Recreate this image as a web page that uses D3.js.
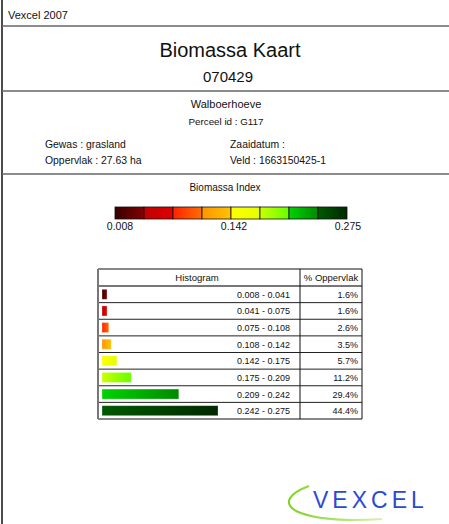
<!DOCTYPE html>
<html>
<head>
<meta charset="utf-8">
<script src="https://d3js.org/d3.v7.min.js"></script>
<style>
  body { margin: 0; background: #fff; }
  svg { display: block; font-family: "Liberation Sans", Arial, sans-serif; }
</style>
</head>
<body>
<div id="chart"></div>
<script>
//////////////////////// Data ////////////////////////////
var ranges = ["0.008 - 0.041", "0.041 - 0.075", "0.075 - 0.108", "0.108 - 0.142",
              "0.142 - 0.175", "0.175 - 0.209", "0.209 - 0.242", "0.242 - 0.275"];
var percents = [1.6, 1.6, 2.6, 3.5, 5.7, 11.2, 29.4, 44.4];
var colorStart = ["#3a0000", "#c00000", "#ff2200", "#ff9500", "#ffff00", "#ccff00", "#00d400", "#005a00"];
var colorEnd   = ["#820000", "#e00000", "#ff7000", "#ffc400", "#e4ff00", "#66ff00", "#008a00", "#002800"];
var indexTicks = ["0.008", "0.142", "0.275"];

//////////////////////// Set-up ////////////////////////////
var width = 449, height = 524;

var svg = d3.select("#chart").append("svg")
	.attr("width", width)
	.attr("height", height);

var defs = svg.append("defs");
colorStart.forEach(function(c, i) {
	var g = defs.append("linearGradient").attr("id", "grad" + i)
		.attr("x1", "0%").attr("x2", "100%").attr("y1", "0%").attr("y2", "0%");
	g.append("stop").attr("offset", "0%").attr("stop-color", c);
	g.append("stop").attr("offset", "100%").attr("stop-color", colorEnd[i]);
});

//frame lines
svg.append("line").attr("x1", 2).attr("x2", 2).attr("y1", 0).attr("y2", height)
	.style("stroke", "#111").style("stroke-width", 1.5);
[26, 91, 174].forEach(function(y) {
	svg.append("line").attr("x1", 2).attr("x2", width).attr("y1", y).attr("y2", y)
		.style("stroke", "#666").style("stroke-width", 1.6);
});

//header texts
function txt(x, y, s, size, anchor) {
	return svg.append("text").attr("x", x).attr("y", y)
		.style("font-size", size + "px").style("text-anchor", anchor || "start")
		.style("fill", "#111").text(s);
}
txt(8, 19, "Vexcel 2007", 11);
txt(230, 57, "Biomassa Kaart", 20, "middle");
txt(228, 82, "070429", 15, "middle");
txt(226, 108, "Walboerhoeve", 11, "middle");
txt(226, 125, "Perceel id : G117", 9.8, "middle");
txt(45, 148, "Gewas : grasland", 10.4);
txt(230, 148, "Zaaidatum :", 10.4);
txt(45, 164, "Oppervlak : 27.63 ha", 10.4);
txt(230, 164, "Veld : 1663150425-1", 10.4);

////////////////////// Colour bar //////////////////////////
txt(225, 191, "Biomassa Index", 10, "middle");

var xBar = d3.scaleBand().domain(d3.range(colorStart.length)).range([115, 347]).padding(0);
var barG = svg.append("g");
barG.selectAll("rect").data(colorStart).enter().append("rect")
	.attr("x", function(d, i) { return xBar(i); })
	.attr("y", 207)
	.attr("width", xBar.bandwidth())
	.attr("height", 12)
	.style("fill", function(d, i) { return "url(#grad" + i + ")"; })
	.style("stroke", "#111").style("stroke-width", 0.8);

var xIdx = d3.scalePoint().domain(indexTicks).range([120, 348]);
svg.selectAll(".idxLabel").data(indexTicks).enter().append("text")
	.attr("class", "idxLabel")
	.attr("x", function(d) { return xIdx(d); })
	.attr("y", 230)
	.style("font-size", "10.5px")
	.style("fill", "#111")
	.style("text-anchor", "middle")
	.text(function(d) { return d; });

////////////////////// Histogram ///////////////////////////
var tLeft = 98, tRight = 362, tTop = 269, headBottom = 286, tBottom = 419, colDiv = 300;

var y = d3.scaleBand().domain(d3.range(ranges.length)).range([headBottom, tBottom]);
var xw = d3.scaleLinear().domain([0, 44.4]).range([0, 116]);

var tab = svg.append("g");
//row lines
tab.selectAll(".rowLine").data(d3.range(ranges.length)).enter().append("line")
	.attr("x1", tLeft).attr("x2", tRight)
	.attr("y1", function(d) { return y(d); })
	.attr("y2", function(d) { return y(d); })
	.style("stroke", function(d) { return d === 0 ? "#777" : "#222"; })
	.style("stroke-width", function(d) { return d === 0 ? 2 : 1; });
tab.append("line").attr("x1", tLeft).attr("x2", tRight).attr("y1", tTop).attr("y2", tTop)
	.style("stroke", "#111").style("stroke-width", 1.2);
tab.append("line").attr("x1", tLeft).attr("x2", tRight).attr("y1", tBottom).attr("y2", tBottom)
	.style("stroke", "#111").style("stroke-width", 1.2);
tab.append("line").attr("x1", tLeft).attr("x2", tLeft).attr("y1", tTop).attr("y2", tBottom)
	.style("stroke", "#777").style("stroke-width", 2);
tab.append("line").attr("x1", tRight).attr("x2", tRight).attr("y1", tTop).attr("y2", tBottom)
	.style("stroke", "#111").style("stroke-width", 1);
tab.append("line").attr("x1", colDiv).attr("x2", colDiv).attr("y1", tTop).attr("y2", tBottom)
	.style("stroke", "#111").style("stroke-width", 1);

//header
tab.append("text").attr("x", 197).attr("y", 281).style("font-size", "9.5px")
	.style("text-anchor", "middle").style("fill", "#111").text("Histogram");
tab.append("text").attr("x", 331).attr("y", 281).style("font-size", "9.5px")
	.style("text-anchor", "middle").style("fill", "#111").text("% Oppervlak");

//bars
tab.selectAll(".hbar").data(percents).enter().append("rect")
	.attr("class", "hbar")
	.attr("x", 102)
	.attr("y", function(d, i) { return y(i) + y.bandwidth() / 2 - 5; })
	.attr("width", function(d) { return Math.max(5, xw(d)); })
	.attr("height", 10)
	.style("fill", function(d, i) { return "url(#grad" + i + ")"; })
	.style("stroke", "#fff").style("stroke-opacity", 0.35).style("stroke-width", 0.8);

//range labels
tab.selectAll(".rlabel").data(ranges).enter().append("text")
	.attr("x", 290)
	.attr("y", function(d, i) { return y(i) + y.bandwidth() / 2 + 3.5; })
	.style("font-size", "9px").style("text-anchor", "end").style("fill", "#111")
	.text(function(d) { return d; });

tab.selectAll(".plabel").data(percents).enter().append("text")
	.attr("x", 358)
	.attr("y", function(d, i) { return y(i) + y.bandwidth() / 2 + 3.5; })
	.style("font-size", "9px").style("text-anchor", "end").style("fill", "#111")
	.text(function(d) { return d.toFixed(1) + "%"; });

///////////////////////// Logo /////////////////////////////
var sw = defs.append("linearGradient").attr("id", "swoosh")
	.attr("x1", "0%").attr("x2", "100%").attr("y1", "0%").attr("y2", "0%");
sw.append("stop").attr("offset", "0%").attr("stop-color", "#7ed321");
sw.append("stop").attr("offset", "100%").attr("stop-color", "#d8f0b0");
svg.append("path")
	.attr("d", "M309,486 C290,493 282,503 296,511 C315,520 350,521 382,519")
	.style("fill", "none").style("stroke", "url(#swoosh)").style("stroke-width", 2);
svg.append("text").attr("x", 313).attr("y", 508)
	.style("font-size", "23px").style("letter-spacing", "4px")
	.style("fill", "#2a4ad4").text("VEXCEL");
</script>
</body>
</html>
